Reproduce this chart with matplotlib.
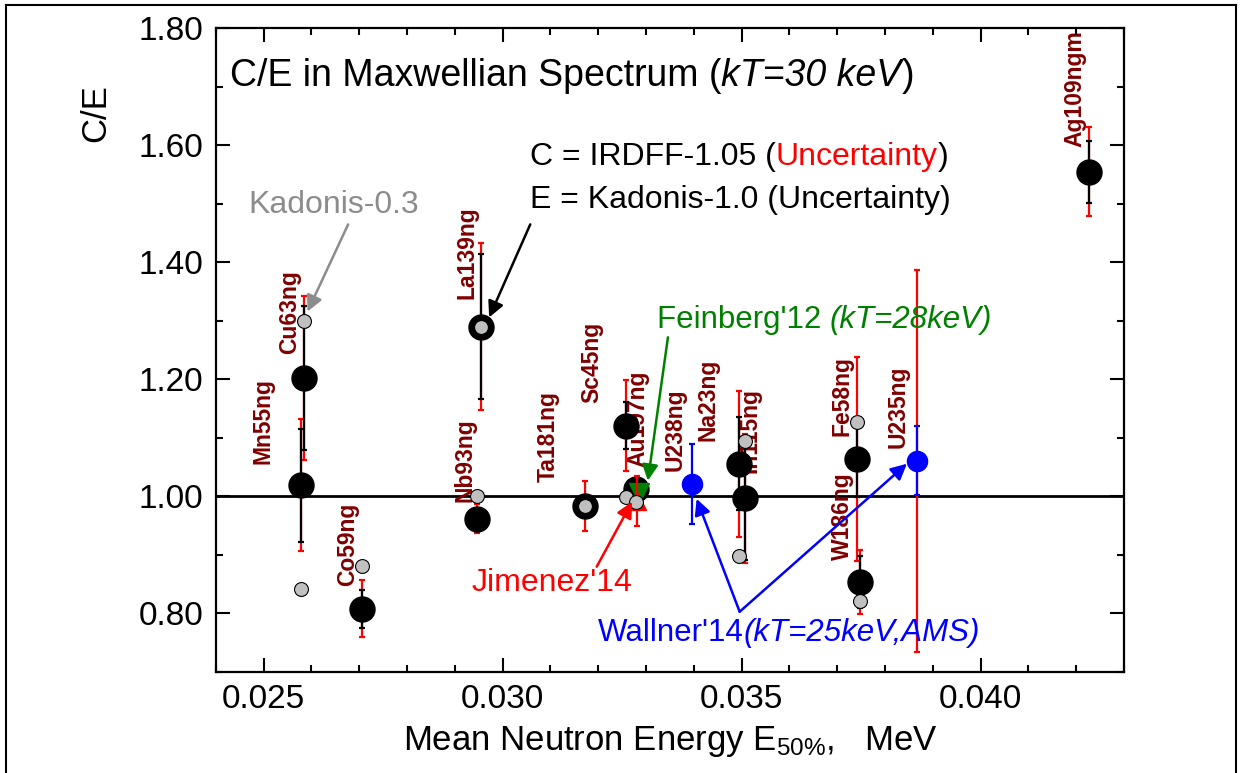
import matplotlib
matplotlib.use("Agg")
import matplotlib.pyplot as plt
from matplotlib.lines import Line2D
from matplotlib.ticker import MultipleLocator, FormatStrFormatter

plt.rcParams["font.family"] = ["Liberation Sans", "DejaVu Sans"]
plt.rcParams["mathtext.fontset"] = "custom"
plt.rcParams["mathtext.rm"] = "Liberation Sans"
plt.rcParams["mathtext.it"] = "Liberation Sans:italic"

# ----- data: C = IRDFF-1.05, E = Kadonis-1.0 --------------------------------
reactions = ["Mn55ng", "Cu63ng", "Co59ng", "Nb93ng", "La139ng", "Ta181ng", "Sc45ng",
             "Au197ng", "Na23ng", "In115ng", "W186ng", "Fe58ng", "Ag109ngm"]
e50 = [0.02578, 0.02585, 0.02707, 0.02947, 0.02954, 0.03173, 0.03259,
       0.03280, 0.03494, 0.03507, 0.03748, 0.03742, 0.04227]
ce = [1.019, 1.203, 0.808, 0.962, 1.290, 0.984, 1.121,
      1.012, 1.056, 0.997, 0.854, 1.064, 1.555]
exp_unc = [0.097, 0.123, 0.033, 0.015, 0.124, 0.015, 0.040,
           0.010, 0.079, 0.106, 0.044, 0.065, 0.053]
calc_unc = [0.113, 0.140, 0.049, 0.025, 0.143, 0.043, 0.078,
            0.010, 0.125, 0.110, 0.055, 0.174, 0.076]

# Kadonis-0.3 (grey)
k03_e50 = [0.02585, 0.02578, 0.02707, 0.02947, 0.02954, 0.03173, 0.03259,
           0.03279, 0.03494, 0.03507, 0.03742, 0.03748]
k03_ce = [1.300, 0.842, 0.882, 1.000, 1.290, 0.984, 0.999,
          0.990, 0.898, 1.095, 1.127, 0.821]

# Wallner'14 (U238, U235)
wal_labels = ["U238ng", "U235ng"]
wal_e50 = [0.03397, 0.03866]
wal_ce = [1.0215, 1.061]
wal_unc = [0.068, 0.059]
wal_calc_unc = [0.0, 0.326]

# Feinberg'12 and Jimenez'14 (Au197)
fein_e50 = [0.03286]
fein_ce = [1.006]
jim_e50 = [0.03281]
jim_ce = [0.992]
jim_unc = [0.043]

# label placement (data coords)
lab_names = reactions + wal_labels
lab_x = [0.02499, 0.02555, 0.02677, 0.02921, 0.02926, 0.03095, 0.03187,
         0.03283, 0.03430, 0.03517, 0.03712, 0.03710, 0.04197, 0.03361, 0.03827]
lab_y = [1.129, 1.315, 0.918, 1.062, 1.417, 1.103, 1.230,
         1.133, 1.166, 1.112, 0.967, 1.172, 1.697, 1.114, 1.153]

# ----- plot -----------------------------------------------------------------
fig = plt.figure(figsize=(12.4, 7.73), dpi=100)
ax = fig.add_axes([0.17395, 0.13066, 0.7325, 0.8326])

ax.axhline(1.0, color="black", lw=2, zorder=1)

ax.errorbar(e50, ce, yerr=calc_unc, fmt="none", ecolor="red", elinewidth=1.6,
            capsize=2.2, capthick=1.6, zorder=2)
ax.errorbar(e50, ce, yerr=exp_unc, fmt="none", ecolor="black", elinewidth=1.6,
            capsize=2.2, capthick=1.6, zorder=3)
ax.plot(e50, ce, "o", ms=18, color="black", ls="none", zorder=4)

ax.errorbar(wal_e50, wal_ce, yerr=wal_calc_unc, fmt="none", ecolor="red",
            elinewidth=1.6, capsize=2.2, capthick=1.6, zorder=2)
ax.errorbar(wal_e50, wal_ce, yerr=wal_unc, fmt="none", ecolor="blue",
            elinewidth=1.6, capsize=2.2, capthick=1.6, zorder=3)
ax.plot(wal_e50, wal_ce, "o", ms=14.5, color="blue", ls="none", zorder=4)

ax.plot(fein_e50, fein_ce, "v", ms=15, color="green", ls="none", zorder=4.5)
ax.errorbar(jim_e50, jim_ce, yerr=jim_unc, fmt="none", ecolor="red",
            elinewidth=1.6, capsize=2.2, capthick=1.6, zorder=4.6)
ax.plot(jim_e50, jim_ce, "^", ms=13, color="red", ls="none", zorder=4.7)

ax.plot(k03_e50, k03_ce, "o", ms=10, mfc="#c0c0c0", mec="black", mew=0.8,
        ls="none", zorder=5)

for name, lx, ly in zip(lab_names, lab_x, lab_y):
    ax.text(lx, ly, name, rotation=90, ha="center", va="center", fontsize=16.5,
            fontweight="bold", color="#800000", zorder=1.5, clip_on=False)


def multicolor(x, y, parts, size):
    s, c, st = parts[0]
    t = ax.text(x, y, s, color=c, style=st, fontsize=size, transform=ax.transAxes,
                ha="left", va="center", zorder=6)
    for s, c, st in parts[1:]:
        t = ax.annotate(s, xy=(1, 0), xycoords=t, color=c, style=st, fontsize=size,
                        ha="left", va="bottom", zorder=6)


multicolor(0.0157, 0.926, [("C/E in Maxwellian Spectrum (", "black", "normal"),
                           ("kT=30 keV", "black", "italic"),
                           (")", "black", "normal")], 27)
multicolor(0.346, 0.800, [("C = IRDFF-1.05 (", "black", "normal"),
                          ("Uncertainty", "red", "normal"),
                          (")", "black", "normal")], 23)
multicolor(0.346, 0.733, [("E = Kadonis-1.0 (Uncertainty)", "black", "normal")], 23)
multicolor(0.0356, 0.726, [("Kadonis-0.3", "#8c8c8c", "normal")], 23)
multicolor(0.4858, 0.547, [("Feinberg'12 ", "green", "normal"),
                           ("(kT=28keV)", "green", "italic")], 22.5)
multicolor(0.282, 0.138, [("Jimenez'14", "red", "normal")], 23)
multicolor(0.421, 0.061, [("Wallner'14", "blue", "normal"),
                          ("(kT=25keV,AMS)", "blue", "italic")], 22.5)


def arrow(tail, tip, color):
    ax.annotate("", xy=tip, xytext=tail,
                arrowprops=dict(arrowstyle="-|>", color=color, lw=1.8,
                                mutation_scale=24, shrinkA=0, shrinkB=0),
                zorder=6)


arrow((0.02677, 1.465), (0.02592, 1.316), "#8c8c8c")
arrow((0.03058, 1.465), (0.02972, 1.306), "black")
arrow((0.03346, 1.272), (0.03304, 1.027), "green")
arrow((0.03197, 0.880), (0.03271, 0.991), "red")
arrow((0.03496, 0.803), (0.03406, 0.996), "blue")
arrow((0.03496, 0.803), (0.03846, 1.056), "blue")

ax.set_xlim(0.024, 0.043)
ax.set_ylim(0.70, 1.80)
ax.xaxis.set_major_locator(MultipleLocator(0.005))
ax.xaxis.set_minor_locator(MultipleLocator(0.001))
ax.yaxis.set_major_locator(MultipleLocator(0.2))
ax.yaxis.set_minor_locator(MultipleLocator(0.1))
ax.xaxis.set_major_formatter(FormatStrFormatter("%.3f"))
ax.yaxis.set_major_formatter(FormatStrFormatter("%.2f"))
ax.tick_params(which="both", direction="in", top=True, right=True, width=1.5,
               labelsize=24)
ax.tick_params(which="major", length=10, pad=9)
ax.tick_params(which="minor", length=5)
for sp in ax.spines.values():
    sp.set_linewidth(1.6)

ax.set_xlabel(r"Mean Neutron Energy E$_{50\%}$,   MeV", fontsize=25, labelpad=6)
fig.text(96 / 1240, 1 - 113 / 773, "C/E", rotation=90, ha="center", va="center",
         fontsize=25)

# outer frame
for xs, ys in [([0.005, 0.997], [0.994, 0.994]), ([0.005, 0.005], [0.0, 0.994]),
               ([0.997, 0.997], [0.0, 0.994])]:
    fig.add_artist(Line2D(xs, ys, color="black", lw=1.5, transform=fig.transFigure))

fig.savefig("out.png", dpi=100)
